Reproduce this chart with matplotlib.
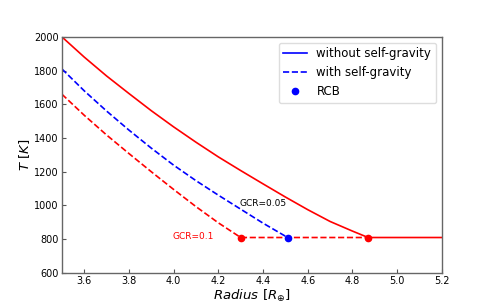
import matplotlib
matplotlib.use("Agg")
import matplotlib.pyplot as plt
from matplotlib.lines import Line2D
import numpy as np

# Data
r_nosg = [3.5, 3.6, 3.7, 3.8, 3.9, 4.0, 4.1, 4.2, 4.3, 4.4, 4.5, 4.6, 4.7, 4.8, 4.87, 5.2]
t_nosg = [2000, 1880, 1768, 1664, 1562, 1466, 1375, 1288, 1207, 1128, 1050, 975, 905, 848, 810, 810]

r_gcr005 = [3.5, 3.6, 3.7, 3.8, 3.9, 4.0, 4.1, 4.2, 4.3, 4.4, 4.51]
t_gcr005 = [1810, 1680, 1560, 1447, 1340, 1239, 1147, 1061, 978, 895, 810]

r_gcr01 = [3.5, 3.6, 3.7, 3.8, 3.9, 4.0, 4.1, 4.2, 4.3, 4.87]
t_gcr01 = [1660, 1535, 1418, 1308, 1200, 1095, 993, 897, 810, 810]

rcb_r = [4.30, 4.51, 4.87]
rcb_t = [810, 810, 810]
rcb_colors = ['red', 'blue', 'red']

fig = plt.figure(figsize=(4.91, 3.07), dpi=100)
ax = fig.add_axes([0.126, 0.111, 0.774, 0.769])

ax.plot(r_nosg, t_nosg, color='red', lw=1.2, ls='-')
ax.plot(r_gcr005, t_gcr005, color='blue', lw=1.2, ls='--')
ax.plot(r_gcr01, t_gcr01, color='red', lw=1.2, ls='--')
for x, y, c in zip(rcb_r, rcb_t, rcb_colors):
    ax.plot(x, y, 'o', color=c, ms=4.5, zorder=5)

ax.text(4.296, 1014, 'GCR=0.05', color='black', fontsize=6.5, va='center', ha='left')
ax.text(3.997, 816, 'GCR=0.1', color='red', fontsize=6.5, va='center', ha='left')

ax.set_xlim(3.5, 5.2)
ax.set_ylim(600, 2000)
ax.set_xticks([3.6, 3.8, 4.0, 4.2, 4.4, 4.6, 4.8, 5.0, 5.2])
ax.set_yticks([600, 800, 1000, 1200, 1400, 1600, 1800, 2000])
ax.tick_params(direction='in', labelsize=7, length=3, color='#555555', pad=2.5)
for s in ax.spines.values():
    s.set_color('#666666')
    s.set_linewidth(1.0)

ax.set_xlabel(r'$Radius\ [R_{\oplus}]$', fontsize=9.5, labelpad=1)
ax.set_ylabel(r'$T\ [K]$', fontsize=9.5, labelpad=1)

handles = [
    Line2D([], [], color='blue', ls='-', lw=1.2),
    Line2D([], [], color='blue', ls='--', lw=1.2),
    Line2D([], [], color='blue', ls='none', marker='o', ms=4.5),
]
labels = ['without self-gravity', 'with self-gravity', 'RCB']
ax.legend(handles, labels, loc='upper right', fontsize=8.5, frameon=True,
          fancybox=True, framealpha=1, edgecolor='#dddddd')

fig.savefig('out.png', dpi=100)
